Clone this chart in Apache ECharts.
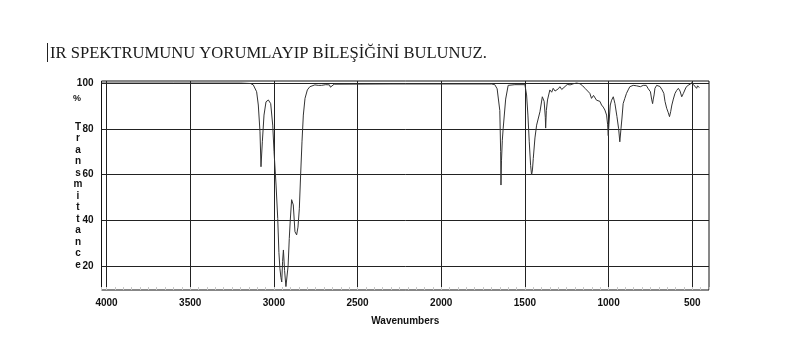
<!DOCTYPE html>
<html>
<head>
<meta charset="utf-8">
<script src="https://cdn.jsdelivr.net/npm/echarts@6/dist/echarts.min.js"></script>
<style>html,body{margin:0;padding:0;background:#fff;}#c{width:786px;height:346px;}</style>
</head>
<body>
<div id="c"></div>
<script>
const titleText = 'IR SPEKTRUMUNU YORUMLAYIP BİLEŞİĞİNİ BULUNUZ.';
const xTickValues = [4000, 3500, 3000, 2500, 2000, 1500, 1000, 500];
const yTickValues = [20, 40, 60, 80, 100];
const wavenumbers = [4030, 3600, 3200, 3140, 3123, 3103, 3093, 3083, 3077, 3069, 3059, 3047, 3033, 3019, 3007, 2999, 2987, 2977, 2970, 2964, 2958, 2953, 2948, 2943, 2936, 2928, 2923, 2915, 2908, 2902, 2894, 2884, 2874, 2864, 2856, 2848, 2840, 2832, 2824, 2814, 2800, 2785, 2774, 2755, 2744, 2735, 2725, 2715, 2690, 2668, 2662, 2655, 2640, 2300, 1700, 1680, 1673, 1666, 1658, 1650, 1645, 1643, 1640, 1635, 1630, 1615, 1600, 1560, 1500, 1490, 1482, 1474, 1466, 1460, 1455, 1450, 1440, 1430, 1410, 1396, 1385, 1378, 1376, 1372, 1365, 1351, 1340, 1331, 1320, 1311, 1300, 1291, 1280, 1271, 1260, 1247, 1230, 1210, 1191, 1171, 1155, 1141, 1125, 1112, 1102, 1090, 1082, 1072, 1062, 1052, 1042, 1032, 1022, 1012, 1006, 1002, 998, 990, 982, 972, 962, 950, 940, 933, 926, 920, 913, 903, 893, 883, 873, 853, 833, 810, 793, 775, 763, 750, 743, 737, 733, 728, 723, 713, 703, 693, 680, 670, 663, 653, 643, 636, 629, 622, 613, 603, 593, 583, 573, 563, 553, 545, 537, 525, 513, 500, 494, 484, 474, 468, 464, 458, 450, 444];
const transmittance = [100, 100, 100, 99.8, 99.2, 96.2, 90.4, 78.7, 63.4, 74.3, 86, 91.8, 92.6, 91, 81.6, 70, 55.4, 40.8, 26, 19, 15, 13, 22, 27, 18, 11, 10.5, 20, 32, 40, 49, 46.7, 35, 33.6, 37, 45, 60, 74.3, 86, 93.3, 97, 98.4, 99, 99.2, 98.6, 99, 98.2, 99, 99.3, 99.2, 98.2, 99, 99.5, 99.6, 99.6, 99.3, 98.6, 97.5, 96.8, 88, 70, 55.4, 66, 75, 80, 93, 99, 99.3, 99.3, 94.8, 86, 74.3, 64, 59.8, 62, 67, 76, 81.6, 87.5, 94, 92, 85, 80.3, 88, 92.6, 97, 96, 97.7, 96.5, 96.2, 97.5, 98.4, 97.2, 97.7, 98.5, 99.4, 99.2, 99.7, 100, 99.7, 98.8, 97.7, 96.5, 95.5, 93.3, 94.6, 94, 92.5, 91.8, 92, 90.4, 89.5, 88.2, 86, 82, 77, 82, 90.4, 92.5, 94, 91, 85.3, 80, 74.3, 80, 84.7, 91, 93.3, 95.5, 97, 98.4, 99, 98.8, 98.4, 99, 99, 97.5, 96.2, 93, 91, 93, 94.8, 97.7, 99, 99, 98.5, 97, 95.5, 92, 89, 87, 85.3, 87.5, 90.4, 93, 95.5, 96.8, 97.7, 96.5, 94, 95.5, 96.2, 98.2, 99, 99.5, 100.3, 99.4, 99, 97.7, 98.8, 98.4, 98];

const data = wavenumbers.map((w, i) => [w, transmittance[i]]);

const chart = echarts.init(document.getElementById('c'), null, {renderer: 'canvas'});
const labelFont = {fontFamily: 'Liberation Sans, Arial, sans-serif', fontWeight: 'bold', fontSize: 10, color: '#111'};
chart.setOption({
  animation: false,
  backgroundColor: '#fff',
  grid: {left: 101.5, right: 77, top: 81, bottom: 56, show: true, borderColor: '#111', borderWidth: 1, backgroundColor: 'transparent'},
  xAxis: [{
    type: 'value', min: 400, max: 4030, inverse: true,
    axisLine: {show: false},
    axisTick: {show: false, customValues: xTickValues},
    axisLabel: Object.assign({customValues: xTickValues, margin: 8, formatter: v => String(v)}, labelFont),
    splitLine: {show: true, lineStyle: {color: '#222', width: 1}},
    name: 'Wavenumbers', nameLocation: 'middle', nameGap: 26,
    nameTextStyle: Object.assign({}, labelFont)
  }, {
    type: 'value', min: 400, max: 4030, inverse: true, interval: 50, position: 'bottom',
    axisLine: {show: false}, axisLabel: {show: false}, splitLine: {show: false},
    axisTick: {show: true, inside: true, length: 3, lineStyle: {color: '#c8c8c8'}}
  }],
  yAxis: {
    type: 'value', min: 9.5, max: 100.9,
    axisLine: {show: false},
    axisTick: {show: false, customValues: yTickValues},
    axisLabel: Object.assign({customValues: yTickValues, margin: 8, formatter: v => String(v)}, labelFont),
    splitLine: {show: true, lineStyle: {color: '#222', width: 1}}
  },
  graphic: [
    {type: 'text', left: 50, top: 45, style: {text: titleText, font: '16.6px "Liberation Serif", "Times New Roman", serif', fill: '#1a1a1a'}},
    {type: 'line', shape: {x1: 47.5, y1: 43, x2: 47.5, y2: 62}, style: {stroke: '#222', lineWidth: 1}},
    {type: 'text', left: 73, top: 94, style: {text: '%', font: 'bold 9px "Liberation Sans", Arial, sans-serif', fill: '#111'}},
    {type: 'text', x: 78, y: 121, style: {text: 'T\nr\na\nn\ns\nm\ni\nt\nt\na\nn\nc\ne', font: 'bold 10px "Liberation Sans", Arial, sans-serif', lineHeight: 11.5, align: 'center', fill: '#111'}}
  ],
  series: [{
    type: 'line', data: data, xAxisIndex: 0, showSymbol: false, symbol: 'none',
    lineStyle: {color: '#333', width: 1}, z: 5
  }]
});
</script>
</body>
</html>
